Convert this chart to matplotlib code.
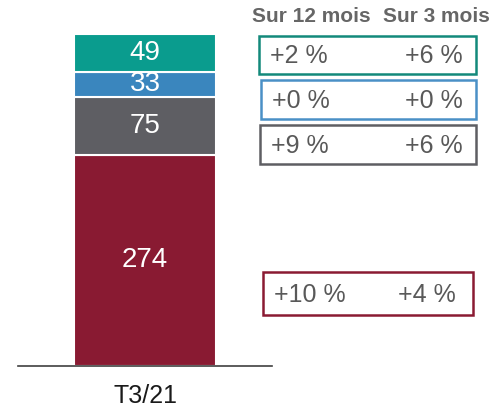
import matplotlib.pyplot as plt
from matplotlib.patches import Rectangle

plt.rcParams['font.family'] = ['Liberation Sans', 'DejaVu Sans']

# données
periode = "T3/21"
valeurs = [274, 75, 33, 49]           # du bas vers le haut
couleurs = ['#891A32', '#5E5E63', '#3A86BE', '#0A9C8E']
bords = ['#8A1A32', '#5E5E63', '#4A90C6', '#13897B']
var_12m = ['+10 %', '+9 %', '+0 %', '+2 %']
var_3m = ['+4 %', '+6 %', '+0 %', '+6 %']
entetes = ["Sur 12 mois", "Sur 3 mois"]

W, H = 495, 415
fig = plt.figure(figsize=(W / 100, H / 100), dpi=100)

# barre empilée
ax = fig.add_axes([18 / W, (H - 366) / H, 254 / W, 346 / H])
bas = 0
for v, c in zip(valeurs, couleurs):
    ax.bar(0, v, bottom=bas, width=0.559, color=c, edgecolor='white', linewidth=1.5)
    ax.text(0, bas + v / 2, str(v), ha='center', va='center', color='white', fontsize=20)
    bas += v
ax.set_xlim(-0.5, 0.5)
ax.set_ylim(0, 449)
for s in ['top', 'right', 'left']:
    ax.spines[s].set_visible(False)
ax.spines['bottom'].set_color('#404040')
ax.spines['bottom'].set_linewidth(1.2)
ax.set_yticks([])
ax.set_xticks([0])
ax.set_xticklabels([periode], fontsize=18, color='#1a1a1a')
ax.tick_params(axis='x', length=0, pad=13)

# encadrés des variations (coordonnées en pixels)
ov = fig.add_axes([0, 0, 1, 1])
ov.set_xlim(0, W)
ov.set_ylim(H, 0)
ov.axis('off')

ov.text(311, 17, entetes[0], ha='center', va='center', fontsize=15,
        fontweight='bold', color='#666666')
ov.text(436, 17, entetes[1], ha='center', va='center', fontsize=15,
        fontweight='bold', color='#666666')

boites = [(263, 272, 210, 43), (260, 125, 216, 39), (261, 80, 215, 39), (259, 36, 217, 38)]
for (x, y, w, h), b, a, m in zip(boites, bords, var_12m, var_3m):
    ov.add_patch(Rectangle((x, y), w, h, fill=False, edgecolor=b, linewidth=1.8))
    ov.text(x + 11, y + h / 2 + 1, a, ha='left', va='center', fontsize=18, color='#595959')
    ov.text(463 if x < 262 else 456, y + h / 2 + 1, m, ha='right', va='center',
            fontsize=18, color='#595959')

fig.savefig('out.png', dpi=100)
